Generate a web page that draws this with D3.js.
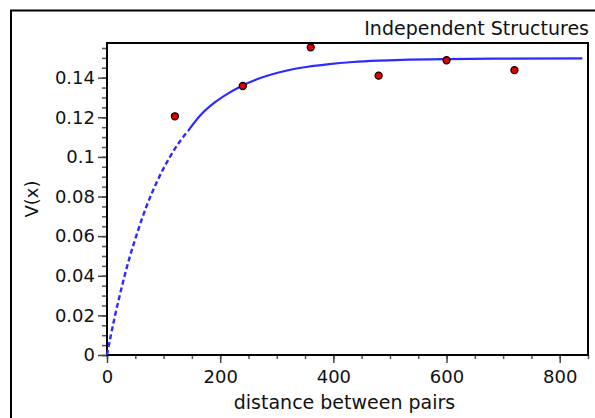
<!DOCTYPE html>
<html>
<head>
<meta charset="utf-8">
<script src="https://cdn.jsdelivr.net/npm/d3@7"></script>
<style>
  html, body { margin: 0; padding: 0; background: #fff; }
  svg { display: block; font-family: "DejaVu Sans", Verdana, sans-serif; }
</style>
</head>
<body>
<svg id="chart" width="595" height="418"></svg>
<script>
// Sample variogram (observed pairs)
const lagX = [120, 240, 360, 480, 600, 720];
const lagV = [0.1205, 0.1358, 0.1553, 0.1410, 0.1488, 0.1438];

// Fitted model curve
const curveX = [0, 7, 14, 21, 28, 40, 52, 70, 88, 111, 130, 143, 165, 191, 215, 238, 265, 295, 324, 355, 389, 435, 480, 521, 600, 700, 840];
const curveV = [0, 0.0102, 0.0197, 0.0283, 0.0365, 0.0493, 0.0604, 0.0752, 0.0873, 0.0999, 0.1083, 0.1130, 0.1210, 0.1276, 0.1322, 0.1358, 0.1392, 0.1420, 0.1440, 0.1455, 0.1467, 0.1479, 0.1486, 0.1490, 0.1494, 0.1496, 0.1497];

const xMajor = [0, 200, 400, 600, 800];
const yMajor = [0, 0.02, 0.04, 0.06, 0.08, 0.1, 0.12, 0.14];
const yLabels = ["0", "0.02", "0.04", "0.06", "0.08", "0.1", "0.12", "0.14"];

const titleText = "Independent Structures";
const xTitle = "distance between pairs";
const yTitle = "V(x)";

const svg = d3.select("#chart");
const plot = { left: 107, top: 43, right: 588, bottom: 355 };

const x = d3.scaleLinear().domain([0, 850]).range([plot.left, plot.right]);
const y = d3.scaleLinear().domain([0, 0.1575]).range([plot.bottom, plot.top]);

// outer panel frame
svg.append("rect")
  .attr("x", 11).attr("y", 10.5)
  .attr("width", 620).attr("height", 430)
  .attr("fill", "none").attr("stroke", "#000").attr("stroke-width", 2);

// title
svg.append("text")
  .attr("x", 589).attr("y", 35)
  .attr("text-anchor", "end")
  .attr("font-size", 19)
  .attr("fill", "#111")
  .text(titleText);

// minor ticks
const xMinor = d3.range(0, 851, 50);
const yMinor = d3.range(0, 0.156, 0.005);

const xAxis = d3.axisBottom(x).tickValues(xMajor).tickSize(8).tickSizeOuter(0).tickFormat(d3.format("d"));
const yAxis = d3.axisLeft(y).tickValues(yMajor).tickSize(9).tickSizeOuter(0)
  .tickFormat((d, i) => yLabels[i]);

const gxMinor = svg.append("g").attr("transform", `translate(0,${plot.bottom})`)
  .call(d3.axisBottom(x).tickValues(xMinor).tickSize(4).tickSizeOuter(0).tickFormat(""));
const gyMinor = svg.append("g").attr("transform", `translate(${plot.left},0)`)
  .call(d3.axisLeft(y).tickValues(yMinor).tickSize(5).tickSizeOuter(0).tickFormat(""));
[gxMinor, gyMinor].forEach(g => {
  g.select(".domain").remove();
  g.selectAll(".tick line").attr("stroke", "#555").attr("stroke-width", 1.5);
});

const gx = svg.append("g").attr("transform", `translate(0,${plot.bottom})`).call(xAxis);
const gy = svg.append("g").attr("transform", `translate(${plot.left},0)`).call(yAxis);
[gx, gy].forEach(g => {
  g.select(".domain").remove();
  g.selectAll(".tick line").attr("stroke", "#444").attr("stroke-width", 1.5);
  g.selectAll(".tick text").attr("font-size", 18).attr("fill", "#111")
    .attr("font-family", "DejaVu Sans, Verdana, sans-serif");
});
gx.selectAll(".tick text").attr("dy", "0.95em").attr("y", 11);
gy.selectAll(".tick text").attr("x", -12);

// plot frame
svg.append("rect")
  .attr("x", plot.left).attr("y", plot.top)
  .attr("width", plot.right - plot.left).attr("height", plot.bottom - plot.top)
  .attr("fill", "none").attr("stroke", "#000").attr("stroke-width", 2);

// axis titles
svg.append("text")
  .attr("x", (plot.left + plot.right) / 2 - 3).attr("y", 409)
  .attr("text-anchor", "middle").attr("font-size", 19).attr("fill", "#111")
  .text(xTitle);
svg.append("text")
  .attr("transform", `translate(38,${(plot.top + plot.bottom) / 2}) rotate(-90)`)
  .attr("text-anchor", "middle").attr("font-size", 18).attr("fill", "#111")
  .text(yTitle);

// model curve: steep rise drawn broken, plateau solid
const pts = curveX.map((d, i) => [d, curveV[i]]);
const line = d3.line().x(d => x(d[0])).y(d => y(d[1])).curve(d3.curveMonotoneX);
const split = 145;
const steep = pts.filter(d => d[0] <= split);
const flat = pts.filter(d => d[0] >= 143);

svg.append("path").datum(steep)
  .attr("d", line).attr("fill", "none")
  .attr("stroke", "#2b2bff").attr("stroke-width", 2.4)
  .attr("stroke-dasharray", "5,3");
svg.append("path").datum(flat)
  .attr("d", line).attr("fill", "none")
  .attr("stroke", "#2b2bff").attr("stroke-width", 2.2);

// observed points
svg.append("g").selectAll("circle")
  .data(lagX.map((d, i) => [d, lagV[i]]))
  .join("circle")
  .attr("cx", d => x(d[0])).attr("cy", d => y(d[1]))
  .attr("r", 3.5)
  .attr("fill", "#e00000").attr("stroke", "#000").attr("stroke-width", 1.3);
</script>
</body>
</html>
